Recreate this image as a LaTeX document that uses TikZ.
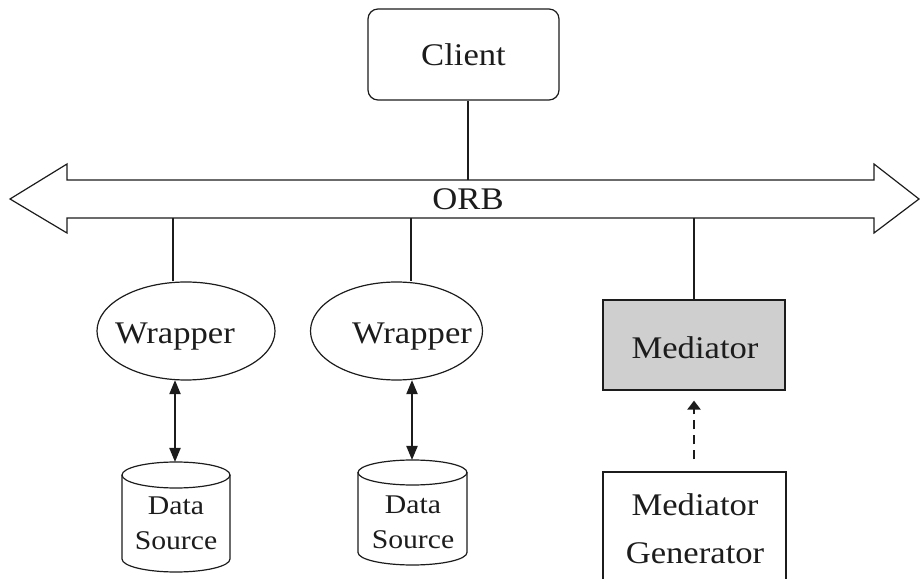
\documentclass[tikz,border=0pt]{standalone}
\usepackage{fontspec}
\setmainfont[FakeStretch=1.1]{Liberation Serif}
\usetikzlibrary{arrows.meta,shapes.geometric}

\definecolor{ink}{HTML}{1C1C1C}
\definecolor{medgray}{HTML}{CFCFCF}

\begin{document}
\begin{tikzpicture}[x=1pt,y=1pt,
  outline/.style={draw=ink, line width=1.2pt},
  link/.style={draw=ink, line width=2pt},
  biglabel/.style={font=\fontsize{31.5}{38}\selectfont, text=ink, inner sep=0pt},
  smalllabel/.style={font=\fontsize{27}{35}\selectfont, text=ink, inner sep=0pt, align=center},
  bigstack/.style={font=\fontsize{31.5}{48}\selectfont, text=ink, inner sep=0pt, align=center},
  twoway/.style={{Triangle[length=14pt,width=11pt]}-{Triangle[length=14pt,width=11pt]}},
]
\useasboundingbox (0,0) rectangle (920,578);

% ORB: double-headed block arrow
\draw[outline, line join=miter]
  (10,379) -- (67,414) -- (67,398) -- (874,398) -- (874,414) -- (919,379)
  -- (874,345) -- (874,360) -- (67,360) -- (67,345) -- cycle;
\node[biglabel, anchor=base] (orb) at (468,368) {ORB};
\coordinate (busTop) at (0,398);
\coordinate (busBot) at (0,360);

% x positions of the vertical links
\coordinate (xc) at (468,0);
\coordinate (xa) at (173,0);
\coordinate (xb) at (411,0);
\coordinate (xm) at (694,0);
\coordinate (xd) at (175,0);
\coordinate (xe) at (412,0);

% Client
\node[outline, rounded corners=10pt, minimum width=191pt, minimum height=91pt,
      biglabel] (client) at (463.5,523.5) {Client};

% Wrappers
\node[outline, ellipse, minimum width=178pt, minimum height=98pt] (w1) at (186,247) {};
\node[biglabel, anchor=base] (w1text) at (175,234) {Wrapper};
\node[outline, ellipse, minimum width=172pt, minimum height=98pt] (w2) at (396.5,247) {};
\node[biglabel, anchor=base] (w2text) at (412,234) {Wrapper};

% Mediator
\node[outline, fill=medgray, minimum width=182pt, minimum height=90pt] (med) at (694,233) {};
\node[biglabel, anchor=base] (medtext) at (695,219) {Mediator};

% Mediator generator (base anchor sits on the last line)
\node[outline, minimum width=183pt, minimum height=113pt] (gen) at (694.5,49.5) {};
\node[bigstack, anchor=base] (gentext) at (695,15) {Mediator\\Generator};

% Data sources (cylinders)
\draw[outline] (176,103) ellipse [x radius=54pt, y radius=13pt];
\draw[outline] (122,103) -- (122,19) arc[start angle=180, end angle=360, x radius=54pt, y radius=13pt] -- (230,103);
\coordinate (ds1top) at (175,116);
\node[smalllabel, anchor=base] (ds1) at (176,28) {Data\\Source};

\draw[outline] (412.5,105.5) ellipse [x radius=54.5pt, y radius=12.5pt];
\draw[outline] (358,105.5) -- (358,25.5) arc[start angle=180, end angle=360, x radius=54.5pt, y radius=12.5pt] -- (467,105.5);
\coordinate (ds2top) at (412,118);
\node[smalllabel, anchor=base] (ds2) at (413,30) {Data\\Source};

% links to the bus
\draw[link] (client.south -| xc) -- (busTop -| xc);
\draw[link] (busBot -| xa) -- (w1.north -| xa);
\draw[link] (busBot -| xb) -- (w2.north -| xb);
\draw[link] (busBot -| xm) -- (med.north -| xm);

% wrapper <-> data source
\draw[link, twoway] (w1.south -| xd) ++(0,0.5) -- (ds1top);
\draw[link, twoway] (w2.south -| xe) ++(0,0.5) -- (ds2top);

% generator produces mediator
\draw[link, line width=2.4pt, dash pattern=on 9pt off 6pt, -{Triangle[length=9pt,width=13pt]},
      shorten <=12pt, shorten >=10pt] (gen.north -| xm) -- (med.south -| xm);
\end{tikzpicture}
\end{document}
